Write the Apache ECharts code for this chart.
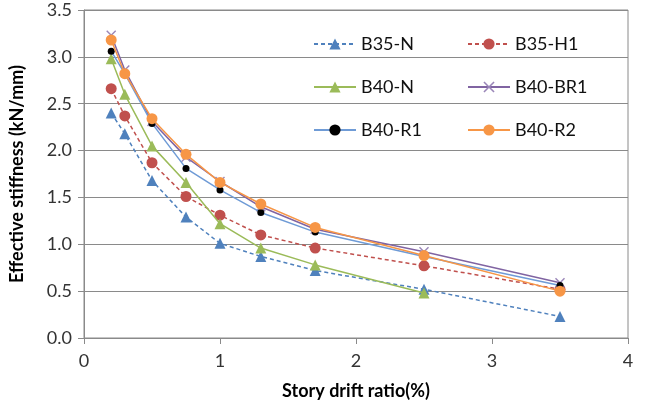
<!DOCTYPE html>
<html>
<head>
<meta charset="utf-8">
<script src="https://cdn.jsdelivr.net/npm/echarts@6/dist/echarts.min.js"></script>
<style>
  html, body { margin: 0; padding: 0; background: #fff; }
  #chart { width: 647px; height: 414px; }
</style>
</head>
<body>
<div id="chart"></div>
<script>
const seriesNames = ["B35-N", "B35-H1", "B40-N", "B40-BR1", "B40-R1", "B40-R2"];

// story drift ratio (%) for each load step
const drift = [0.2, 0.3, 0.5, 0.75, 1.0, 1.3, 1.7, 2.5, 3.5];

// effective stiffness (kN/mm)
const b35N = [2.40, 2.18, 1.68, 1.29, 1.01, 0.87, 0.72, 0.52, 0.23];
const b35H1 = [2.66, 2.37, 1.87, 1.51, 1.31, 1.10, 0.96, 0.77, 0.52];
const b40N = [2.98, 2.60, 2.05, 1.66, 1.22, 0.96, 0.78, 0.48];
const b40BR1 = [3.23, 2.86, 2.31, 1.93, 1.67, 1.40, 1.16, 0.92, 0.59];
const b40R1 = [3.06, 2.82, 2.29, 1.81, 1.58, 1.34, 1.13, 0.87, 0.56];
const b40R2 = [3.18, 2.82, 2.34, 1.96, 1.66, 1.43, 1.18, 0.88, 0.50];

const xTicks = [0, 1, 2, 3, 4];
const yTicks = [0, 0.5, 1.0, 1.5, 2.0, 2.5, 3.0, 3.5];

const FONT = "Lato";
const crossPath = "path://M0,1L1,0L5,4L9,0L10,1L6,5L10,9L9,10L5,6L1,10L0,9L4,5Z";

function pairs(ys) {
  return ys.map((y, i) => [drift[i], y]);
}

function makeSeries(name, ys, color, opts) {
  return {
    name: name,
    type: "line",
    data: pairs(ys),
    symbol: opts.symbol,
    symbolSize: opts.size,
    showAllSymbol: true,
    lineStyle: { color: color, width: 1.5, type: opts.dashed ? [4, 3] : "solid" },
    itemStyle: { color: opts.markColor || color, borderWidth: 0 },
    emphasis: { disabled: true },
    z: opts.z,
  };
}

const chart = echarts.init(document.getElementById("chart"), null, { renderer: "canvas" });

const legendText = { fontFamily: FONT, fontSize: 18, color: "#111" };

chart.setOption({
  animation: false,
  backgroundColor: "#fff",
  grid: {
    left: 81,
    right: 19,
    top: 10,
    bottom: 76,
    show: true,
    borderColor: "#8a8a8a",
    borderWidth: 1,
  },
  legend: [
    {
      data: [seriesNames[0], seriesNames[2], seriesNames[4]],
      orient: "vertical",
      left: 308,
      top: 30,
      itemWidth: 42,
      itemHeight: 14,
      itemGap: 25,
      textStyle: legendText,
    },
    {
      data: [seriesNames[1], seriesNames[3], seriesNames[5]],
      orient: "vertical",
      left: 462,
      top: 30,
      itemWidth: 42,
      itemHeight: 14,
      itemGap: 25,
      textStyle: legendText,
    },
  ],
  xAxis: {
    type: "value",
    min: xTicks[0],
    max: xTicks[xTicks.length - 1],
    interval: 1,
    name: "Story drift ratio(%)",
    nameLocation: "middle",
    nameGap: 44,
    nameTextStyle: { fontFamily: FONT, fontSize: 18, fontWeight: "bold", color: "#000" },
    axisLine: { lineStyle: { color: "#8a8a8a" } },
    axisTick: { show: true, length: 6, lineStyle: { color: "#8a8a8a" } },
    axisLabel: { fontFamily: FONT, fontSize: 18, color: "#333", margin: 14 },
    splitLine: { show: false },
  },
  yAxis: {
    type: "value",
    min: yTicks[0],
    max: yTicks[yTicks.length - 1],
    interval: 0.5,
    name: "Effective stiffness (kN/mm)",
    nameLocation: "middle",
    nameGap: 58,
    nameRotate: 90,
    nameTextStyle: { fontFamily: FONT, fontSize: 18, fontWeight: "bold", color: "#000" },
    axisLine: { show: true, lineStyle: { color: "#8a8a8a" } },
    axisTick: { show: true, length: 6, lineStyle: { color: "#8a8a8a" } },
    axisLabel: {
      fontFamily: FONT,
      fontSize: 18,
      color: "#333",
      margin: 12,
      formatter: (v) => v.toFixed(1),
    },
    splitLine: { show: true, lineStyle: { color: "#8a8a8a", width: 1 } },
  },
  series: [
    makeSeries(seriesNames[0], b35N, "#4F81BD", { symbol: "triangle", size: 11, dashed: true, z: 2 }),
    makeSeries(seriesNames[1], b35H1, "#C0504D", { symbol: "circle", size: 11, dashed: true, z: 3 }),
    makeSeries(seriesNames[2], b40N, "#9BBB59", { symbol: "triangle", size: 11, z: 4 }),
    makeSeries(seriesNames[3], b40BR1, "#8064A2", { symbol: crossPath, size: 10, markColor: "#9a86b8", z: 5 }),
    makeSeries(seriesNames[4], b40R1, "#6F9BD6", { symbol: "circle", size: 7, markColor: "#000", z: 6 }),
    makeSeries(seriesNames[5], b40R2, "#F79646", { symbol: "circle", size: 11, z: 7 }),
  ],
});
</script>
</body>
</html>
